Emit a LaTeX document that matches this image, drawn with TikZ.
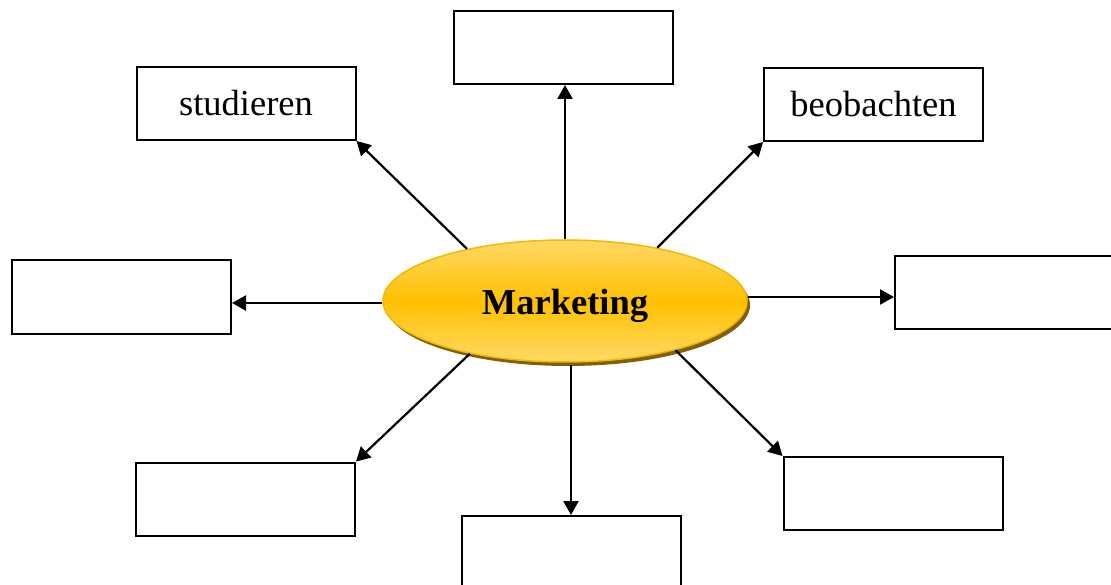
\documentclass[tikz,border=0pt]{standalone}
\usepackage{fontspec}
\setmainfont{Liberation Serif}
\usetikzlibrary{arrows.meta,shapes.geometric,shadows}
\definecolor{goldmid}{HTML}{FFC000}
\definecolor{goldlight}{HTML}{FFD966}
\definecolor{goldedge}{HTML}{F5B800}
\definecolor{shadowcol}{HTML}{7F6010}
\tikzset{
  answerbox/.style={draw=black, line width=2pt, fill=white, minimum width=219pt, minimum height=73pt, inner sep=0pt, font=\fontsize{36.5}{40}\selectfont},
  arr/.style={line width=2.2pt, -{Triangle[length=14pt,width=15pt]}},
  centre/.style={ellipse, minimum width=364pt, minimum height=122pt, inner sep=0pt,
    top color=goldlight, bottom color=goldlight, middle color=goldmid, draw=goldedge, line width=1.5pt,
    drop shadow={shadow xshift=3pt, shadow yshift=-4pt, fill=shadowcol, opacity=1},
    font=\bfseries\fontsize{36.5}{40}\selectfont}
}
\begin{document}
\begin{tikzpicture}[x=1pt,y=-1pt]
\useasboundingbox (0,0) rectangle (1111,585);
\clip (0,0) rectangle (1111,585);
\fill[white] (0,0) rectangle (1111,585);
\node[centre] (mk) at (565,301) {\raisebox{-14pt}[0pt][0pt]{Marketing}};
\node[answerbox] (stud) at (246,103.5) {studieren};
\node[answerbox] (top) at (563.5,47.5) {};
\node[answerbox] (beob) at (873.5,104.5) {beobachten};
\node[answerbox] (left) at (121.5,297) {};
\node[answerbox] (right) at (1004.5,292.5) {};
\node[answerbox] (bl) at (245.5,499) {};
\node[answerbox] (bc) at (571,552.5) {};
\node[answerbox] (br) at (893,493.5) {};
\coordinate (bcs) at ([xshift=6pt,yshift=-2pt]mk.south);
\draw[arr] (mk.north) -- (mk.north |- top.south);
\draw[arr] (mk.152) -- (stud.south east);
\draw[arr] (mk.30) -- (beob.south west);
\draw[arr] ([yshift=-2pt]mk.west) -- ([yshift=-2pt]mk.west -| left.east);
\draw[arr] ([yshift=4pt]mk.east) -- ([yshift=4pt]mk.east -| right.west);
\draw[arr] (mk.209) -- (bl.north east);
\draw[arr] (bcs) -- (bcs |- bc.north);
\draw[arr] (mk.336) -- (br.north west);
\end{tikzpicture}
\end{document}
